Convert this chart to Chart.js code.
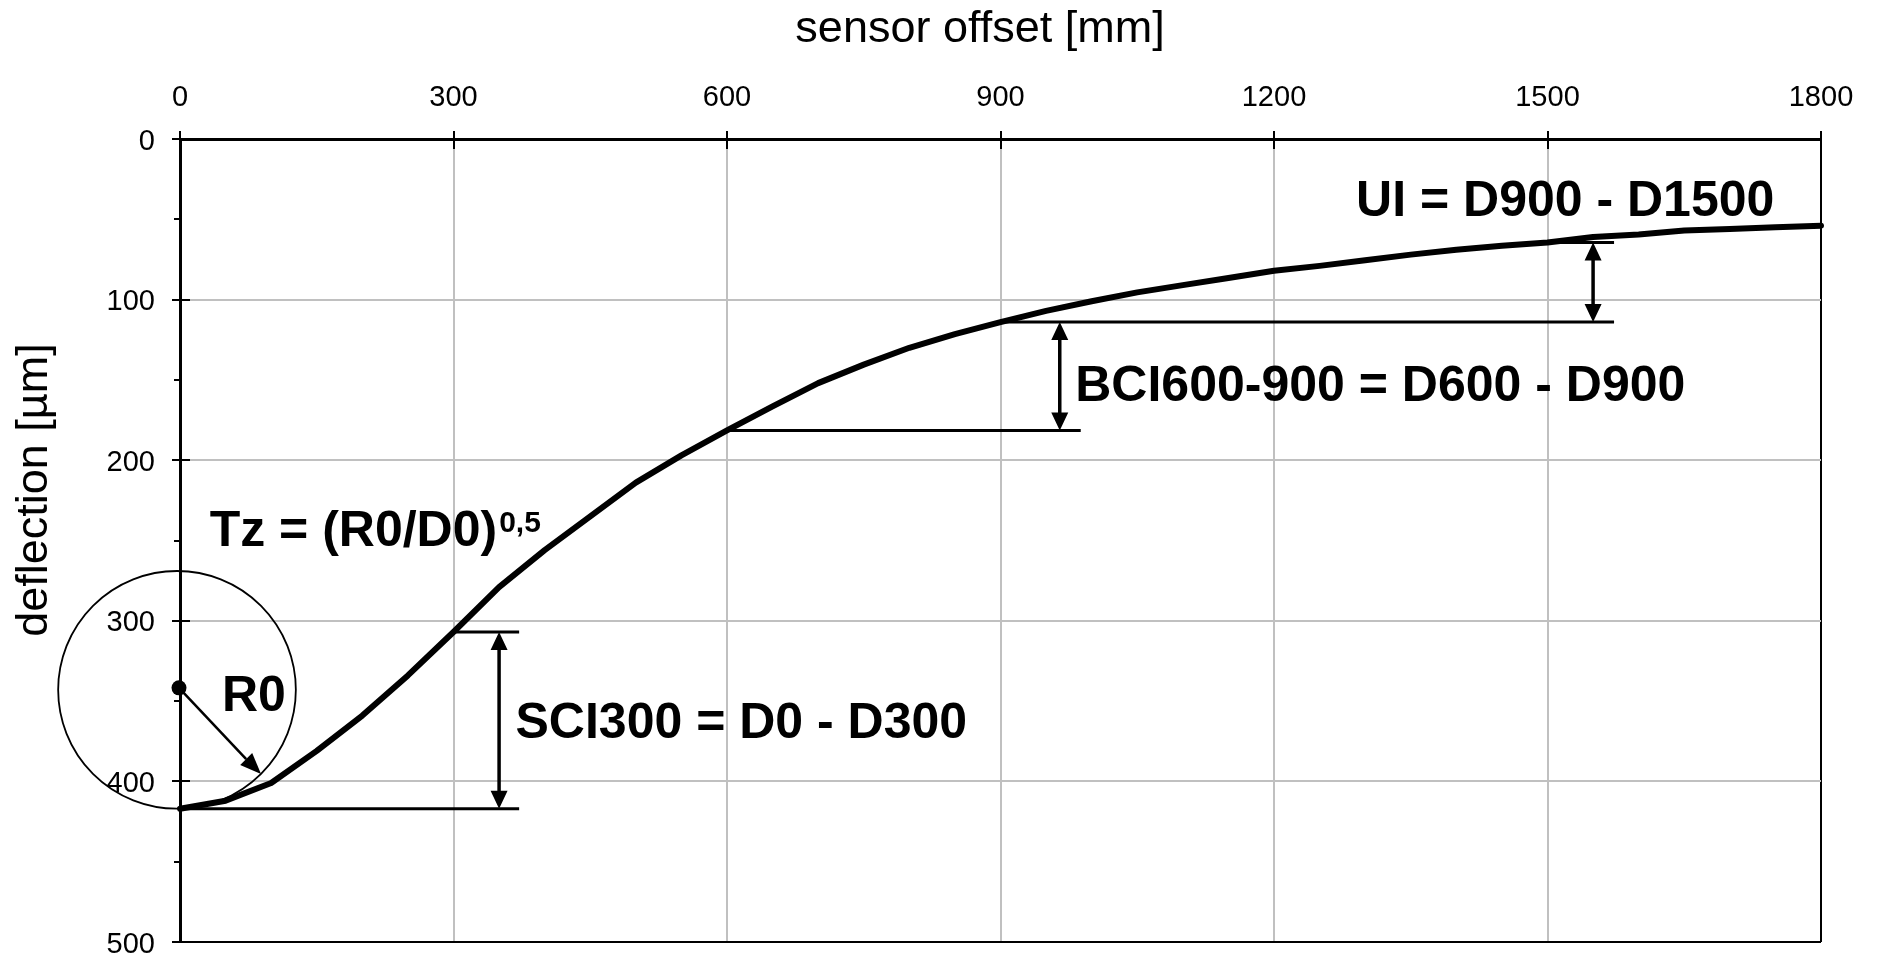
<!DOCTYPE html>
<html>
<head>
<meta charset="utf-8">
<title>deflection bowl</title>
<script src="https://cdn.jsdelivr.net/npm/chart.js@4.4.1/dist/chart.umd.min.js"></script>
<style>
  html, body { margin: 0; padding: 0; background: #fff; }
  #wrap { width: 1877px; height: 959px; }
</style>
</head>
<body>
<div id="wrap"><canvas id="bowl" width="1877" height="959"></canvas></div>
<script>
// sensor offsets [mm] and the measured deflection bowl [µm]
const offsets = [0, 50, 100, 150, 200, 250, 300, 350, 400, 450, 500, 550, 600,
  650, 700, 750, 800, 850, 900, 950, 1000, 1050, 1100, 1150, 1200, 1250, 1300,
  1350, 1400, 1450, 1500, 1550, 1600, 1650, 1700, 1750, 1800];
const deflection = [417, 412, 401, 381, 359, 334, 307, 279, 256, 235, 214, 197, 181.5,
  166.5, 152, 140.5, 130, 121.5, 114, 107, 101, 95.5, 91, 86.5, 82, 79, 75.5,
  72, 69, 66.5, 64.5, 61, 59.5, 57, 56, 55, 54];

const xTickValues = [0, 300, 600, 900, 1200, 1500, 1800];
const yTickValues = [0, 100, 200, 300, 400, 500];
const yMinorTicks = [50, 150, 250, 350, 450];

const FONT = '"Liberation Sans", Arial, Helvetica, sans-serif';

// deflection at a given sensor offset
function D(mm) { return deflection[offsets.indexOf(mm)]; }

function hLine(ctx, x0, x1, yp) {
  ctx.lineWidth = 3;
  ctx.beginPath();
  ctx.moveTo(x0, yp);
  ctx.lineTo(x1, yp);
  ctx.stroke();
}

// vertical double-headed arrow, tips at yTop and yBot
function dimArrow(ctx, xp, yTop, yBot) {
  const len = 18, half = 8.5;
  ctx.lineWidth = 3.5;
  ctx.beginPath();
  ctx.moveTo(xp, yTop + len - 1);
  ctx.lineTo(xp, yBot - len + 1);
  ctx.stroke();
  ctx.beginPath();
  ctx.moveTo(xp, yTop); ctx.lineTo(xp - half, yTop + len); ctx.lineTo(xp + half, yTop + len); ctx.closePath();
  ctx.moveTo(xp, yBot); ctx.lineTo(xp - half, yBot - len); ctx.lineTo(xp + half, yBot - len); ctx.closePath();
  ctx.fill();
}

const bowlNotes = {
  id: 'bowlNotes',
  afterDraw(chart) {
    const { ctx, chartArea: area } = chart;
    const xs = chart.scales.x, ys = chart.scales.y;
    const px = v => xs.getPixelForValue(v);
    const py = v => ys.getPixelForValue(v);

    ctx.save();
    ctx.strokeStyle = '#000';
    ctx.fillStyle = '#000';

    // tick marks reaching into the plot, minor ticks on the left axis
    ctx.lineWidth = 2;
    ctx.beginPath();
    xTickValues.slice(1, -1).forEach(v => {
      ctx.moveTo(Math.round(px(v)), area.top);
      ctx.lineTo(Math.round(px(v)), area.top + 10);
    });
    yTickValues.forEach(v => {
      ctx.moveTo(area.left, Math.round(py(v)));
      ctx.lineTo(area.left + 10, Math.round(py(v)));
    });
    yMinorTicks.forEach(v => {
      ctx.moveTo(area.left - 6, Math.round(py(v)));
      ctx.lineTo(area.left, Math.round(py(v)));
    });
    ctx.stroke();

    // SCI300
    hLine(ctx, px(0), px(372), py(D(0)));
    hLine(ctx, px(300), px(372), py(D(300)));
    dimArrow(ctx, px(350), py(D(300)), py(D(0)));

    // BCI600-900
    hLine(ctx, px(600), px(988), py(D(600)));
    hLine(ctx, px(900), px(1573), py(D(900)));
    dimArrow(ctx, px(965), py(D(900)), py(D(600)));

    // UI
    hLine(ctx, px(1500), px(1573), py(D(1500)));
    dimArrow(ctx, px(1550), py(D(1500)), py(D(900)));

    // radius of curvature circle, tangent to the bowl at D0
    const cx = px(0) - 3, cy = py(343);
    const r = py(D(0)) - cy;
    ctx.lineWidth = 1.8;
    ctx.beginPath();
    ctx.arc(cx, cy, r, 0, Math.PI * 2);
    ctx.stroke();
    ctx.beginPath();
    ctx.arc(px(0) - 1, cy - 2, 7.5, 0, Math.PI * 2);
    ctx.fill();

    // R0 arrow from the centre to the circle
    const a = Math.PI / 4;
    const ox = px(0) - 1, oy = cy - 2;
    const tipX = cx + r * Math.cos(a), tipY = cy + r * Math.sin(a);
    const hl = 21, hw = 8.5;
    const bx = tipX - hl * Math.cos(a), by = tipY - hl * Math.sin(a);
    ctx.lineWidth = 2.5;
    ctx.beginPath();
    ctx.moveTo(ox, oy);
    ctx.lineTo(bx, by);
    ctx.stroke();
    ctx.beginPath();
    ctx.moveTo(tipX, tipY);
    ctx.lineTo(bx + hw * Math.sin(a), by - hw * Math.cos(a));
    ctx.lineTo(bx - hw * Math.sin(a), by + hw * Math.cos(a));
    ctx.closePath();
    ctx.fill();

    // formula labels
    ctx.textAlign = 'left';
    ctx.textBaseline = 'alphabetic';
    ctx.font = 'bold 50px ' + FONT;
    ctx.fillText('SCI300 = D0 - D300', px(368), py(373));
    ctx.fillText('BCI600-900 = D600 - D900', px(982), py(163));
    ctx.fillText('UI = D900 - D1500', px(1290), py(48));
    ctx.fillText('R0', px(46), py(356));
    const tz = 'Tz = (R0/D0)';
    const tzX = px(32.5), tzY = py(253.5);
    ctx.fillText(tz, tzX, tzY);
    const tzW = ctx.measureText(tz).width;
    ctx.font = 'bold 30px ' + FONT;
    ctx.fillText('0,5', tzX + tzW + 2, tzY - 14);

    // axis titles
    ctx.font = '45px ' + FONT;
    ctx.textAlign = 'center';
    ctx.fillText('sensor offset [mm]', 980, 42);
    ctx.translate(47, 490);
    ctx.rotate(-Math.PI / 2);
    ctx.fillText('deflection [µm]', 0, 0);

    ctx.restore();
  }
};

const tickFont = { family: FONT, size: 29 };
const gridGrey = '#c0c0c0';

new Chart(document.getElementById('bowl'), {
  type: 'line',
  data: {
    datasets: [{
      data: offsets.map((o, i) => ({ x: o, y: deflection[i] })),
      borderColor: '#000',
      borderWidth: 6,
      borderJoinStyle: 'round',
      borderCapStyle: 'round',
      pointRadius: 0,
      tension: 0,
      clip: false
    }]
  },
  options: {
    responsive: false,
    animation: false,
    layout: { padding: { left: 0, top: 0, right: 56, bottom: 17 } },
    plugins: {
      legend: { display: false },
      tooltip: { enabled: false }
    },
    scales: {
      x: {
        type: 'linear',
        position: 'top',
        min: 0,
        max: 1800,
        afterBuildTicks: s => { s.ticks = xTickValues.map(v => ({ value: v })); },
        afterFit: s => { s.height = 139; },
        ticks: { color: '#000', font: tickFont, padding: 16, maxRotation: 0, callback: v => String(v) },
        grid: {
          color: c => (c.tick && c.tick.value === 1800 ? '#000' : gridGrey),
          lineWidth: 2,
          tickColor: '#000',
          tickLength: 8,
          tickWidth: 2
        },
        border: { color: '#000', width: 3 }
      },
      y: {
        type: 'linear',
        reverse: true,
        min: 0,
        max: 500,
        afterBuildTicks: s => { s.ticks = yTickValues.map(v => ({ value: v })); },
        // fixed width; the outer padding alone sets the bottom edge
        afterFit: s => { s.width = 180; s.paddingTop = 0; s.paddingBottom = 0; },
        ticks: { color: '#000', font: tickFont, padding: 17, labelOffset: 2.5, callback: v => String(v) },
        grid: {
          color: c => (c.tick && c.tick.value === 500 ? '#000' : gridGrey),
          lineWidth: 2,
          tickColor: '#000',
          tickLength: 8,
          tickWidth: 2
        },
        border: { color: '#000', width: 3 }
      }
    }
  },
  plugins: [bowlNotes]
});
</script>
</body>
</html>
